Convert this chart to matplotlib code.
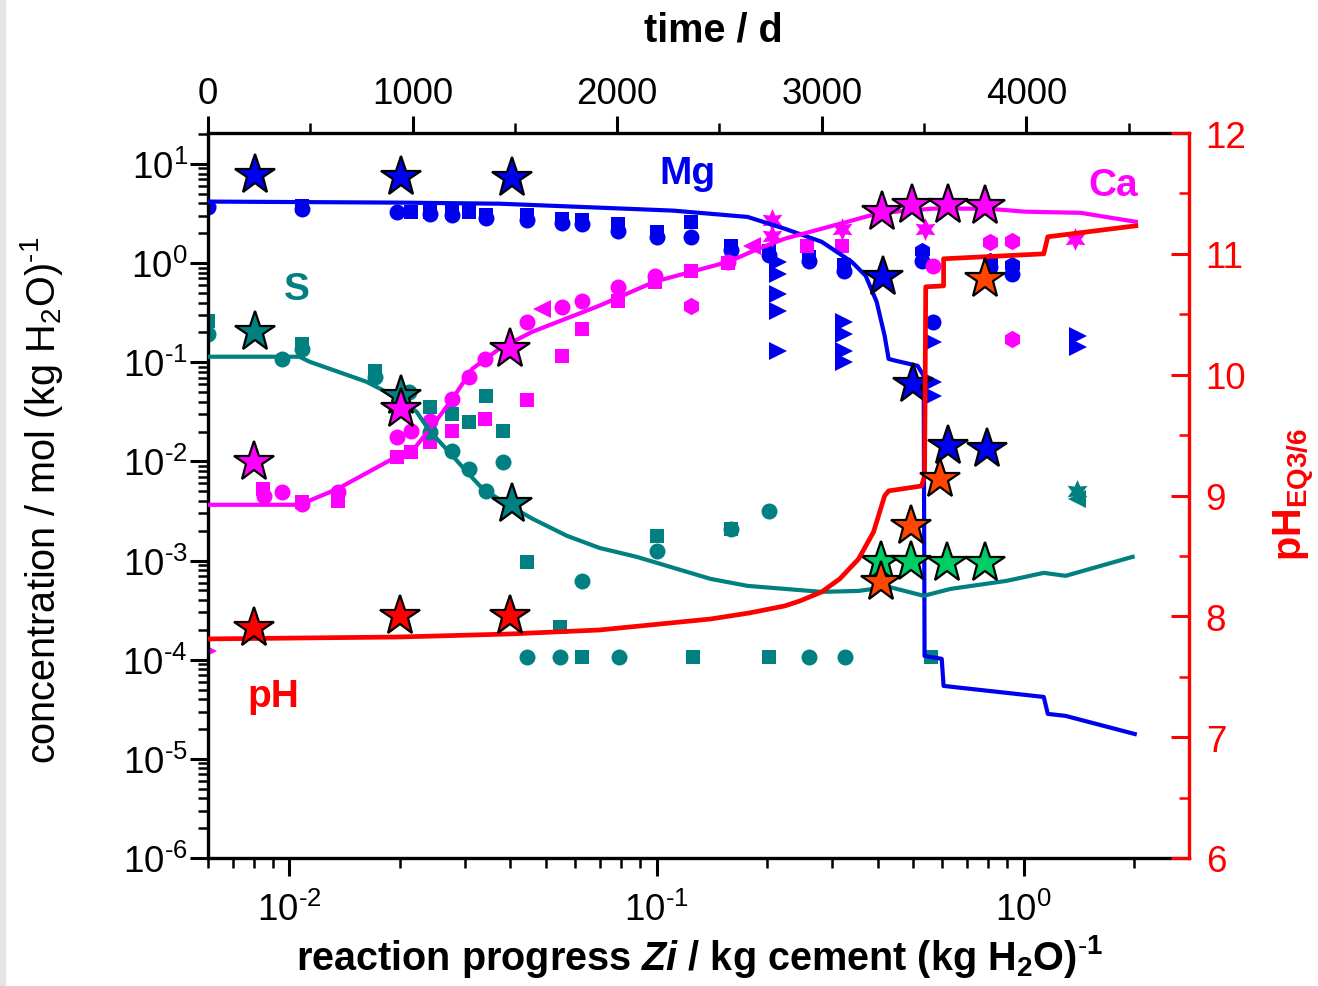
import numpy as np
import matplotlib
matplotlib.use("Agg")
import matplotlib.pyplot as plt
from matplotlib.ticker import LogLocator, NullFormatter, MultipleLocator, FuncFormatter
from matplotlib.patches import Rectangle

plt.rcParams['font.family'] = ['Liberation Sans', 'DejaVu Sans']
plt.rcParams['mathtext.fontset'] = 'custom'
plt.rcParams['mathtext.rm'] = 'Liberation Sans'
plt.rcParams['mathtext.it'] = 'Liberation Sans:italic'
plt.rcParams['mathtext.bf'] = 'Liberation Sans:bold'
plt.rcParams['mathtext.bfit'] = 'Liberation Sans:italic:bold'

# ---------------- colours ----------------
C_MG = '#0000f0'
C_CA = '#ff00ff'
C_S = '#008080'
C_PH = '#ff0000'
C_PH2 = '#ff4500'
C_GR = '#00cc66'

# ---------------- model lines ----------------
mg_line_x = [0.006, 0.020, 0.0373, 0.070, 0.111, 0.177, 0.2234, 0.2816, 0.340, 0.371, 0.3976,
             0.418, 0.4286, 0.448, 0.514, 0.534, 0.537, 0.598, 0.605, 1.134, 1.163, 1.301, 2.007]
mg_line_y = [4.17, 4.07, 3.97, 3.62, 3.38, 2.92, 2.22, 1.64, 1.03, 0.746, 0.407,
             0.185, 0.108, 0.1035, 0.092, 0.073, 1.09e-4, 1.02e-4, 5.44e-5, 4.21e-5, 2.84e-5, 2.71e-5, 1.78e-5]

ca_line_x = [0.006, 0.01065, 0.01352, 0.01909, 0.02163, 0.02453, 0.0278, 0.0315, 0.03734, 0.0459,
             0.0699, 0.0988, 0.1246, 0.157, 0.1897, 0.2233, 0.2816, 0.340, 0.3805, 0.448, 0.565,
             0.798, 1.006, 1.430, 1.804, 2.02]
ca_line_y = [3.65e-3, 3.65e-3, 5.28e-3, 0.0106, 0.0128, 0.0229, 0.0428, 0.0860, 0.137, 0.203,
             0.372, 0.649, 0.819, 1.03, 1.40, 1.76, 2.22, 2.68, 3.01, 3.30, 3.54,
             3.54, 3.30, 3.21, 2.79, 2.61]

s_line_x = [0.00606, 0.01065, 0.01134, 0.0162, 0.01995, 0.0222, 0.02407, 0.0278, 0.0304, 0.0336,
            0.0398, 0.0459, 0.0569, 0.0699, 0.0882, 0.1403, 0.177, 0.2816, 0.355, 0.4286, 0.534,
            0.633, 0.899, 1.134, 1.301, 1.98]
s_line_y = [0.1136, 0.1136, 0.1012, 0.0636, 0.0428, 0.0316, 0.0204, 0.0114, 7.86e-3, 5.28e-3,
            3.56e-3, 2.64e-3, 1.78e-3, 1.34e-3, 1.09e-3, 6.53e-4, 5.55e-4, 4.83e-4, 4.94e-4, 5.43e-4, 4.41e-4,
            5.18e-4, 6.24e-4, 7.51e-4, 7.01e-4, 1.09e-3]

ph_line_x = [0.006, 0.01995, 0.0398, 0.0699, 0.1403, 0.179, 0.2234, 0.2455, 0.2816, 0.3155, 0.355,
             0.390, 0.418, 0.4286, 0.527, 0.537, 0.541, 0.605, 0.605, 1.134, 1.163, 2.02]
ph_line_y = [7.813, 7.829, 7.854, 7.887, 7.978, 8.028, 8.086, 8.127, 8.202, 8.310, 8.475,
             8.699, 8.997, 9.038, 9.079, 9.162, 10.727, 10.735, 10.959, 11.0, 11.141, 11.232]

# ---------------- measured data: Mg ----------------
mg_circ_x = [0.006, 0.0108, 0.0196, 0.0241, 0.0278, 0.0344, 0.0445, 0.0551, 0.0625, 0.0783, 0.100,
             0.124, 0.159, 0.203, 0.260, 0.323, 0.527, 0.565, 0.808, 0.927]
mg_circ_y = [3.70, 3.54, 3.30, 3.15, 3.08, 2.87, 2.74, 2.56, 2.50, 2.12, 1.85,
             1.85, 1.36, 1.22, 1.06, 0.838, 1.06, 0.256, 0.92, 0.782]
mg_sq_x = [0.0108, 0.0215, 0.0241, 0.0278, 0.0309, 0.0344, 0.0445, 0.0551, 0.0625, 0.0783, 0.100,
           0.124, 0.159, 0.203, 0.260, 0.323]
mg_sq_y = [3.80, 3.30, 3.30, 3.30, 3.30, 3.08, 3.08, 2.80, 2.74, 2.50, 2.05,
           2.62, 1.50, 1.33, 1.16, 0.96]
mg_hex_x = [0.527, 0.808, 0.927]
mg_hex_y = [1.33, 1.06, 0.96]
mg_tri_x = [0.006, 0.214, 0.214, 0.214, 0.214, 0.214, 0.323, 0.323, 0.323, 0.323,
            0.565, 0.565, 0.565, 1.41, 1.41]
mg_tri_y = [3.80, 1.03, 0.782, 0.491, 0.331, 0.131, 0.256, 0.194, 0.131, 0.101,
            0.161, 0.0636, 0.0459, 0.185, 0.143]

# ---------------- measured data: Ca ----------------
ca_circ_x = [0.0085, 0.00957, 0.0108, 0.01352, 0.0196, 0.0215, 0.0241, 0.0278, 0.0309, 0.0340,
             0.0445, 0.0551, 0.0625, 0.0783, 0.0988, 0.157, 0.565]
ca_circ_y = [4.50e-3, 4.93e-3, 3.73e-3, 4.93e-3, 0.0177, 0.0204, 0.0257, 0.0428, 0.0714, 0.108,
             0.256, 0.363, 0.417, 0.578, 0.746, 1.03, 0.942]
ca_sq_x = [0.00847, 0.0108, 0.01352, 0.0196, 0.0215, 0.0241, 0.0278, 0.0340, 0.0445, 0.0551,
           0.0625, 0.0783, 0.0988, 0.124, 0.157, 0.2563, 0.319]
ca_sq_y = [5.28e-3, 3.91e-3, 4.0e-3, 0.0111, 0.0125, 0.0158, 0.0204, 0.0269, 0.0419, 0.116,
           0.218, 0.417, 0.649, 0.838, 1.0, 1.47, 1.47]
ca_ltri_x = [0.0486, 0.1815]
ca_ltri_y = [0.347, 1.50]
ca_rtri_x = [0.006]
ca_rtri_y = [1.23e-4]
ca_hex_x = [0.124, 0.808, 0.927, 0.927]
ca_hex_y = [0.372, 1.64, 1.68, 0.173]
ca_hexa_x = [0.2058, 0.2058, 0.319, 0.537, 1.377]
ca_hexa_y = [2.74, 1.89, 2.22, 2.22, 1.76]

# ---------------- measured data: S ----------------
s_circ_x = [0.006, 0.00957, 0.0108, 0.01706, 0.0212, 0.0241, 0.0278, 0.0309, 0.0344, 0.0381,
            0.0445, 0.0544, 0.0625, 0.0788, 0.100, 0.159, 0.203, 0.260, 0.326]
s_circ_y = [0.194, 0.108, 0.137, 0.0714, 0.0504, 0.0199, 0.0128, 8.41e-3, 5.05e-3, 9.9e-3,
            1.07e-4, 1.07e-4, 6.24e-4, 1.07e-4, 1.25e-3, 2.09e-3, 3.18e-3, 1.07e-4, 1.07e-4]
s_sq_x = [0.006, 0.0108, 0.01706, 0.0241, 0.0278, 0.0309, 0.0344, 0.0381, 0.0445, 0.0544,
          0.0625, 0.100, 0.1253, 0.159, 0.203, 0.558]
s_sq_y = [0.262, 0.154, 0.0820, 0.0356, 0.0302, 0.0251, 0.0459, 0.0204, 9.7e-4, 2.14e-4,
          1.07e-4, 1.77e-3, 1.07e-4, 2.09e-3, 1.07e-4, 1.07e-4]
s_hexa_x = [1.394]
s_hexa_y = [5.05e-3]
s_ltri_x = [1.394]
s_ltri_y = [4.2e-3]

# ---------------- star data ----------------
mg_star_x = [0.00808, 0.02007, 0.0403, 0.4128, 0.498, 0.621, 0.793]
mg_star_y = [7.8, 7.44, 7.27, 0.729, 0.0607, 0.01436, 0.01339]
s_star_x = [0.00808, 0.02007, 0.0403]
s_star_y = [0.203, 0.0459, 3.73e-3]
ca_star_x = [0.00803, 0.02007, 0.0400, 0.410, 0.495, 0.621, 0.783]
ca_star_y = [9.9e-3, 0.034, 0.137, 3.31, 3.86, 3.86, 3.77]
green_star_x = [0.4077, 0.492, 0.617, 0.783]
green_star_y = [9.7e-4, 9.7e-4, 9.5e-4, 9.5e-4]
ph_star_x = [0.00803, 0.01995, 0.0400]
ph_star_y = [7.90, 8.00, 8.00]
ph2_star_x = [0.408, 0.492, 0.590, 0.783]
ph2_star_y = [8.285, 8.75, 9.14, 10.79]

# ---------------- axis settings ----------------
x_lim = (0.006, 2.82)
y_lim = (1e-6, 20.5)
ph_lim = (6, 12)
time_lim = (0, 4795)
time_ticks = [0, 1000, 2000, 3000, 4000]


def sci_fmt(v, pos):
    k = int(round(np.log10(v)))
    if k < 0:
        return r'$\mathdefault{10^{\text{-}%d}}$' % (-k)
    return r'$\mathdefault{10^{%d}}$' % k


W, H = 1318, 987
fig = plt.figure(figsize=(W / 100, H / 100), dpi=100)
fig.patches.append(Rectangle((0, 0), 5 / W, 1, transform=fig.transFigure,
                             color='#e4e4e4', zorder=0))

ax = fig.add_axes([208 / W, 1 - 859 / H, (1189 - 208) / W, (859 - 134) / H])
ax.set_xscale('log')
ax.set_yscale('log')
ax.set_xlim(*x_lim)
ax.set_ylim(*y_lim)

ms = 11.5
# small markers
ax.plot(mg_circ_x, mg_circ_y, 'o', color=C_MG, ms=ms, mew=0, zorder=2)
ax.plot(mg_sq_x, mg_sq_y, 's', color=C_MG, ms=ms - 1.5, mew=0, zorder=2)
ax.plot(mg_hex_x, mg_hex_y, 'h', color=C_MG, ms=ms + 1, mew=0, zorder=2)
ax.plot(mg_tri_x, mg_tri_y, '>', color=C_MG, ms=ms + 1, mew=0, zorder=2)

ax.plot(ca_circ_x, ca_circ_y, 'o', color=C_CA, ms=ms, mew=0, zorder=2)
ax.plot(ca_sq_x, ca_sq_y, 's', color=C_CA, ms=ms - 1.5, mew=0, zorder=2)
ax.plot(ca_ltri_x, ca_ltri_y, '<', color=C_CA, ms=ms + 1, mew=0, zorder=2)
ax.plot(ca_rtri_x, ca_rtri_y, '>', color=C_CA, ms=ms + 1, mew=0, zorder=2)
ax.plot(ca_hex_x, ca_hex_y, 'h', color=C_CA, ms=ms + 1, mew=0, zorder=2)
ax.plot(ca_hexa_x, ca_hexa_y, marker=(6, 1, 0), ls='none', color=C_CA, ms=ms + 5, mew=0, zorder=2)

ax.plot(s_circ_x, s_circ_y, 'o', color=C_S, ms=ms, mew=0, zorder=2)
ax.plot(s_sq_x, s_sq_y, 's', color=C_S, ms=ms - 1.5, mew=0, zorder=2)
ax.plot(s_hexa_x, s_hexa_y, marker=(6, 1, 0), ls='none', color=C_S, ms=ms + 5, mew=0, zorder=2)
ax.plot(s_ltri_x, s_ltri_y, '<', color=C_S, ms=ms + 1, mew=0, zorder=2)

# model lines
ax.plot(mg_line_x, mg_line_y, '-', color=C_MG, lw=3.0, zorder=3)
ax.plot(ca_line_x, ca_line_y, '-', color=C_CA, lw=3.0, zorder=3)
ax.plot(s_line_x, s_line_y, '-', color=C_S, lw=3.0, zorder=3)

# stars
star_kw = dict(marker='*', ls='none', ms=30, mec='black', mew=1.6, zorder=5)
ax.plot(mg_star_x, mg_star_y, mfc=C_MG, **star_kw)
ax.plot(s_star_x, s_star_y, mfc=C_S, **star_kw)
ax.plot(ca_star_x, ca_star_y, mfc=C_CA, **star_kw)
ax.plot(green_star_x, green_star_y, mfc=C_GR, **star_kw)

# axis ticks (left / bottom)
ax.xaxis.set_major_locator(LogLocator(base=10, numticks=20))
ax.xaxis.set_minor_locator(LogLocator(base=10, subs=np.arange(2, 10), numticks=20))
ax.xaxis.set_minor_formatter(NullFormatter())
ax.xaxis.set_major_formatter(FuncFormatter(sci_fmt))
ax.yaxis.set_major_locator(LogLocator(base=10, numticks=20))
ax.yaxis.set_minor_locator(LogLocator(base=10, subs=np.arange(2, 10), numticks=20))
ax.yaxis.set_minor_formatter(NullFormatter())
ax.yaxis.set_major_formatter(FuncFormatter(sci_fmt))
ax.tick_params(which='major', direction='out', length=13, width=2.2, labelsize=26.5)
ax.tick_params(axis='x', which='major', pad=11)
ax.tick_params(axis='y', which='major', pad=1.5)
ax.tick_params(which='minor', direction='out', length=7, width=1.8)
ax.tick_params(axis='x', which='both', top=False)
ax.tick_params(axis='y', which='both', right=False)
for side in ['left', 'bottom']:
    ax.spines[side].set_linewidth(2.4)
ax.spines['top'].set_visible(False)
ax.spines['right'].set_visible(False)

# top time axis
ax_t = ax.twiny()
ax_t.set_xlim(*time_lim)
ax_t.set_xticks(time_ticks)
ax_t.xaxis.set_minor_locator(MultipleLocator(500))
ax_t.tick_params(axis='x', which='major', direction='out', length=12, width=2.2, labelsize=26.5, pad=4)
ax_t.tick_params(axis='x', which='minor', direction='out', length=7, width=1.8)
for side in ['left', 'right', 'bottom']:
    ax_t.spines[side].set_visible(False)
ax_t.spines['top'].set_linewidth(2.4)

# right pH axis
ax_r = ax.twinx()
ax_r.set_ylim(*ph_lim)
ax_r.set_yticks([6, 7, 8, 9, 10, 11, 12])
ax_r.yaxis.set_minor_locator(MultipleLocator(0.5))
ax_r.plot(ph_line_x, ph_line_y, '-', color=C_PH, lw=3.4, zorder=3)
ax_r.plot(ph_star_x, ph_star_y, mfc=C_PH, **star_kw)
ax_r.plot(ph2_star_x, ph2_star_y, mfc=C_PH2, **star_kw)
ax_r.tick_params(axis='y', which='major', direction='in', length=13, width=2.2, colors=C_PH,
                 labelsize=26.5, pad=12)
ax_r.tick_params(axis='y', which='minor', direction='in', length=7, width=1.8, colors=C_PH)
for side in ['left', 'top', 'bottom']:
    ax_r.spines[side].set_visible(False)
ax_r.spines['right'].set_color(C_PH)
ax_r.spines['right'].set_linewidth(2.4)

# labels
fig.text(713 / W, 1 - 30 / H, 'time / d', ha='center', va='center', fontsize=28.5, fontweight='bold')
fig.text(700 / W, 1 - 957 / H,
         r'reaction progress $\mathbfit{Zi}$ / kg cement (kg H$_\mathbf{2}$O)$^\mathbf{\text{-}1}$',
         ha='center', va='center', fontsize=28.5, fontweight='bold')
fig.text(42 / W, 1 - 500 / H, r'concentration / mol (kg H$_2$O)$^{\text{-}1}$',
         ha='center', va='center', rotation=90, fontsize=28.5)
fig.text(1293 / W, 1 - 495 / H, r'pH$_\mathbf{EQ3/6}$', ha='center', va='center', rotation=90,
         fontsize=28.5, fontweight='bold', color=C_PH)

fig.text(687 / W, 1 - 174 / H, 'Mg', ha='center', va='center', fontsize=28, fontweight='bold', color=C_MG)
fig.text(1113 / W, 1 - 186 / H, 'Ca', ha='center', va='center', fontsize=28, fontweight='bold', color=C_CA)
fig.text(297 / W, 1 - 290 / H, 'S', ha='center', va='center', fontsize=28, fontweight='bold', color=C_S)
fig.text(273 / W, 1 - 697 / H, 'pH', ha='center', va='center', fontsize=28, fontweight='bold', color=C_PH)

fig.savefig('out.png', dpi=100)
